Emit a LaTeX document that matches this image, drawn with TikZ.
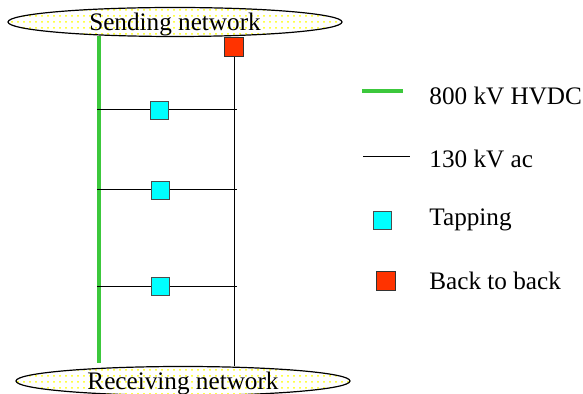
\documentclass[tikz,border=0pt]{standalone}
\usepackage{fontspec}
\setmainfont{Liberation Serif}
\usetikzlibrary{patterns,shapes.geometric}
\definecolor{hvdcgreen}{RGB}{60,200,60}
\definecolor{tapcyan}{RGB}{0,255,255}
\definecolor{btbred}{RGB}{255,51,0}
\tikzset{
  net/.style={ellipse,draw,line width=.6pt,pattern=dots,pattern color=yellow,
    minimum width=334pt*.5,minimum height=29pt*.5,inner sep=0pt},
  hvdc/.style={draw=hvdcgreen,line width=2.4pt},
  ac/.style={draw=black,line width=.5pt},
  tapbox/.style={draw=black!70,fill=tapcyan,minimum size=9pt,inner sep=0pt},
  btbbox/.style={draw=black!80,fill=btbred,minimum size=9.5pt,inner sep=0pt},
  lgtext/.style={anchor=west,inner sep=0pt}
}
\begin{document}
\begin{tikzpicture}[x=.5pt,y=-.5pt,font=\fontsize{12.6}{15}\selectfont]
\useasboundingbox (0,0) rectangle (583,394);
%Netze
\node[net] (send) at (175,22) {};
\node[net] (recv) at (183,381) {};
%Kabel
\coordinate (hvtop) at (99,36);
\coordinate (hvbot) at (99,363);
\draw[hvdc] (hvtop)--(hvbot);
\node[btbbox] (btb) at (234,47) {};
\coordinate (acbot) at (234,366);
\draw[ac] (btb)--(acbot);
%Abzweige
\foreach \i/\x/\y in {1/159.5/110,2/160.5/190,3/160.5/286.5}{
  \node[tapbox] (tap\i) at (\x,\y) {};
  \coordinate (l\i) at (97,\y);
  \coordinate (r\i) at (237,\y);
  \draw[ac] (l\i)--(tap\i)--(r\i);
}
%Beschriftung
\node (sendtxt) at (175,24) {Sending network};
\node (recvtxt) at (183,383) {Receiving network};
%Legende
\coordinate (g1) at (362,91); \coordinate (g2) at (403,91);
\draw[hvdc,line width=2pt] (g1)--(g2);
\node[lgtext] (lg1) at (429,96) {800 kV HVDC};
\coordinate (a1) at (363,157); \coordinate (a2) at (410,157);
\draw[ac] (a1)--(a2);
\node[lgtext] (lg2) at (429,159) {130 kV ac};
\node[tapbox] (lgtap) at (382,220) {};
\node[lgtext] (lg3) at (429,220) {Tapping};
\node[btbbox] (lgbtb) at (386,281) {};
\node[lgtext] (lg4) at (429,281) {Back to back};
\end{tikzpicture}
\end{document}
